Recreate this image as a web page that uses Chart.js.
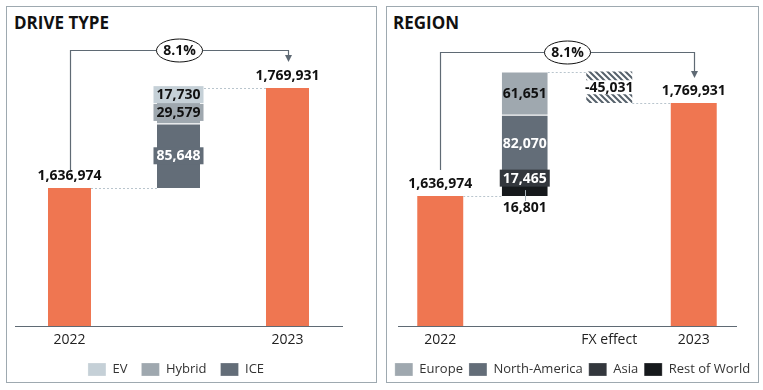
<!DOCTYPE html>
<html>
<head>
<meta charset="utf-8">
<script src="https://cdn.jsdelivr.net/npm/chart.js@4.4.1/dist/chart.umd.min.js"></script>
<style>
  html, body { margin: 0; padding: 0; background: #fff; }
  body { width: 763px; height: 390px; position: relative; overflow: hidden; font-family: 'Open Sans', sans-serif; }
  .panel { position: absolute; top: 6px; height: 377px; border: 1.5px solid #9ea9b0; box-sizing: border-box; }
  .title { position: absolute; top: 12.5px; font-size: 17px; line-height: 20px; font-weight: 700; color: #111; }
  canvas { position: absolute; top: 7px; }
</style>
</head>
<body>
<div class="panel" style="left:6px;width:371px"></div>
<div class="panel" style="left:386px;width:373px"></div>
<div class="title" style="left:14px">DRIVE TYPE</div>
<div class="title" style="left:393px">REGION</div>
<canvas id="driveChart" width="368" height="379" style="left:7px"></canvas>
<canvas id="regionChart" width="371" height="379" style="left:387px"></canvas>

<script>
// ---- data ----
const driveCategories = ['2022', '', '2023'];
const driveTotals = [1636974, null, 1769931];
const driveSeries = ['EV', 'Hybrid', 'ICE'];
const driveDeltas = [17730, 29579, 85648];

const regionCategories = ['2022', '', 'FX effect', '2023'];
const regionTotals = [1636974, null, null, 1769931];
const regionSeries = ['Europe', 'North-America', 'Asia', 'Rest of World'];
const regionDeltas = [61651, 82070, 17465, 16801];
const regionFx = -45031;

// ---- styles ----
const ORANGE = '#ef7651';
const driveColors = ['#c5d0d7', '#9fa8af', '#636d78'];
const driveText = [
  { color: '#111', box: true },
  { color: '#111', box: true },
  { color: '#fff', box: true },
];
const regionColors = ['#9fa8af', '#636d78', '#33373d', '#16191c'];
const regionText = [
  { color: '#111', box: false },
  { color: '#fff', box: false },
  { color: '#fff', box: true },
  { color: '#111', below: true },
];

Chart.defaults.font.family = "'Open Sans', sans-serif";

const fmt = v => Math.round(v).toLocaleString('en-US');
const pct = (a, b) => ((b - a) / a * 100).toFixed(1) + '%';

// segments stack bottom-up from the last series to the first
function stackSegments(start, deltas) {
  const ranges = new Array(deltas.length);
  let level = start;
  for (let i = deltas.length - 1; i >= 0; i--) {
    ranges[i] = [level, level + deltas[i]];
    level += deltas[i];
  }
  return { ranges, top: level };
}

function hatchPattern() {
  const c = document.createElement('canvas');
  c.width = 6; c.height = 6;
  const g = c.getContext('2d');
  g.strokeStyle = '#56616b';
  g.lineWidth = 2;
  g.beginPath();
  [-6, 0, 6].forEach(k => { g.moveTo(-6, -6 + k); g.lineTo(12, 12 + k); });
  g.stroke();
  return g.createPattern(c, 'repeat');
}

function segmentDatasets(names, colors, ranges, cat, count) {
  return names.map((name, i) => ({
    label: name,
    data: Array.from({ length: count }, (_, c) => c === cat ? ranges[i] : null),
    backgroundColor: colors[i],
    borderColor: '#fff',
    borderWidth: { top: 1, bottom: 0, left: 0, right: 0 },
    borderSkipped: false,
  }));
}

// labels, connectors and the growth bracket
function decorPlugin(o) {
  return {
    id: 'decor',
    afterDatasetsDraw(chart) {
      const { ctx } = chart;
      const y = chart.scales.y;
      const cx = c => chart.scales.x.getPixelForValue(c);
      const el = (d, c) => chart.getDatasetMeta(d).data[c];
      const half = el(0, 0).width / 2;
      const last = o.totals.length - 1;
      ctx.save();

      // dotted connectors
      ctx.strokeStyle = '#b9c5cd';
      ctx.lineWidth = 1;
      ctx.setLineDash([2, 2]);
      o.links.forEach(([from, to, value]) => {
        const py = Math.round(y.getPixelForValue(value)) + 0.5;
        ctx.beginPath();
        ctx.moveTo(cx(from) + half, py);
        ctx.lineTo(cx(to) - half, py);
        ctx.stroke();
      });
      ctx.setLineDash([]);

      ctx.font = "bold 14px 'Open Sans', sans-serif";
      ctx.textAlign = 'center';
      ctx.textBaseline = 'middle';

      // totals
      o.totals.forEach((v, c) => {
        if (v == null) return;
        ctx.fillStyle = '#111';
        ctx.fillText(fmt(v), cx(c), el(0, c).y - 12);
      });

      // segments
      o.series.forEach((name, i) => {
        const e = el(i + 1, o.segCat);
        const st = o.textStyles[i];
        const text = fmt(o.deltas[i]);
        const tw = ctx.measureText(text).width;
        if (st.below) {
          ctx.strokeStyle = '#a9b3ba';
          ctx.beginPath();
          ctx.moveTo(Math.round(e.x) + 0.5, (e.y + e.base) / 2);
          ctx.lineTo(Math.round(e.x) + 0.5, e.base + 5);
          ctx.stroke();
          ctx.fillStyle = st.color;
          ctx.fillText(text, e.x, e.base + 12);
          return;
        }
        const my = (e.y + e.base) / 2;
        if (st.box) {
          ctx.fillStyle = o.colors[i];
          ctx.fillRect(e.x - tw / 2 - 3, my - 8.5, tw + 6, 17);
        }
        ctx.fillStyle = st.color;
        ctx.fillText(text, e.x, my + 0.5);
      });

      // FX effect
      if (o.fxIndex != null) {
        const e = el(o.fxIndex, o.fxCat);
        const text = fmt(o.fx);
        const tw = ctx.measureText(text).width;
        const my = (e.y + e.base) / 2;
        ctx.fillStyle = '#fff';
        ctx.fillRect(e.x - tw / 2 - 2, my - 7, tw + 4, 14);
        ctx.fillStyle = '#111';
        ctx.fillText(text, e.x, my + 0.5);
      }

      // bracket with arrow
      const x0 = Math.round(cx(0)) + 0.5, x1 = Math.round(cx(last)) + 0.5;
      const yStart = el(0, 0).y - 12 - o.startGap;
      const yTip = el(0, last).y - 12 - o.tipGap;
      const yTop = o.bracketY + 0.5;
      ctx.strokeStyle = '#5f6a74';
      ctx.lineWidth = 1.2;
      ctx.beginPath();
      ctx.moveTo(x0, yStart);
      ctx.lineTo(x0, yTop);
      ctx.lineTo(x1, yTop);
      ctx.lineTo(x1, yTip - 6);
      ctx.stroke();
      ctx.fillStyle = '#5f6a74';
      ctx.beginPath();
      ctx.moveTo(x1 - 3.5, yTip - 7);
      ctx.lineTo(x1 + 3.5, yTip - 7);
      ctx.lineTo(x1, yTip);
      ctx.closePath();
      ctx.fill();

      const mx = (x0 + x1) / 2;
      ctx.beginPath();
      ctx.ellipse(mx, yTop, 23, 11.5, 0, 0, Math.PI * 2);
      ctx.fillStyle = '#fff';
      ctx.fill();
      ctx.strokeStyle = '#111';
      ctx.lineWidth = 1;
      ctx.stroke();
      ctx.fillStyle = '#111';
      ctx.fillText(pct(o.totals[0], o.totals[last]), mx, yTop + 0.5);
      ctx.restore();
    },
  };
}

function chartOptions(o) {
  const hidden = { display: false, drawTicks: false };
  return {
    responsive: false,
    animation: false,
    layout: { padding: { top: 20, right: o.padRight, left: 0, bottom: 0 } },
    datasets: { bar: { grouped: false, barPercentage: o.barPct, categoryPercentage: 1 } },
    plugins: {
      tooltip: { enabled: false },
      legend: {
        position: 'bottom',
        labels: {
          boxWidth: 18, boxHeight: 13, padding: o.legendPad, color: '#333',
          font: { size: 13 },
          filter: item => item.text !== '',
        },
      },
    },
    scales: {
      x: {
        grid: hidden,
        border: { display: true, color: '#5f6a74', width: 1 },
        ticks: { color: '#222', font: { size: 14 }, padding: 6, maxRotation: 0, autoSkip: false },
        afterFit: s => { s.height = o.xHeight; },
      },
      y: {
        min: o.yMin, max: o.yMax,
        ticks: { display: false }, grid: hidden, border: { display: false },
        afterFit: s => { s.width = o.leftW; },
      },
      yR: {
        axis: 'y', type: 'linear', position: 'right',
        ticks: { display: false }, grid: hidden, border: { display: false },
        afterFit: s => { s.width = o.rightW; },
      },
    },
  };
}

// ---- drive type ----
const driveStack = stackSegments(driveTotals[0], driveDeltas);
new Chart(document.getElementById('driveChart'), {
  type: 'bar',
  data: {
    labels: driveCategories,
    datasets: [
      { label: '', data: driveTotals, backgroundColor: ORANGE },
      ...segmentDatasets(driveSeries, driveColors, driveStack.ranges, 1, driveCategories.length),
    ],
  },
  options: chartOptions({
    barPct: 0.3945, legendPad: 14, xHeight: 23, padRight: 30, leftW: 8, rightW: 3,
    yMin: 1453500, yMax: 1851000,
  }),
  plugins: [decorPlugin({
    totals: driveTotals, series: driveSeries, deltas: driveDeltas, colors: driveColors,
    textStyles: driveText, segCat: 1,
    links: [[0, 1, driveTotals[0]], [1, 2, driveStack.top]],
    bracketY: 43, startGap: 6, tipGap: 14,
  })],
});

// ---- region ----
const regionStack = stackSegments(regionTotals[0], regionDeltas);
const fxRange = [regionStack.top, regionStack.top + regionFx];
new Chart(document.getElementById('regionChart'), {
  type: 'bar',
  data: {
    labels: regionCategories,
    datasets: [
      { label: '', data: regionTotals, backgroundColor: ORANGE },
      ...segmentDatasets(regionSeries, regionColors, regionStack.ranges, 1, regionCategories.length),
      { label: '', data: regionCategories.map((_, c) => c === 2 ? fxRange : null), backgroundColor: hatchPattern() },
    ],
  },
  options: chartOptions({
    barPct: 0.544, legendPad: 6, xHeight: 31, padRight: 0, leftW: 11, rightW: 22,
    yMin: 1451100, yMax: 1878600,
  }),
  plugins: [decorPlugin({
    totals: regionTotals, series: regionSeries, deltas: regionDeltas, colors: regionColors,
    textStyles: regionText, segCat: 1,
    fxIndex: regionSeries.length + 1, fxCat: 2, fx: regionFx,
    links: [[0, 1, regionTotals[0]], [1, 2, regionStack.top], [2, 3, fxRange[1]]],
    bracketY: 45, startGap: 14, tipGap: 13,
  })],
});
</script>
</body>
</html>
